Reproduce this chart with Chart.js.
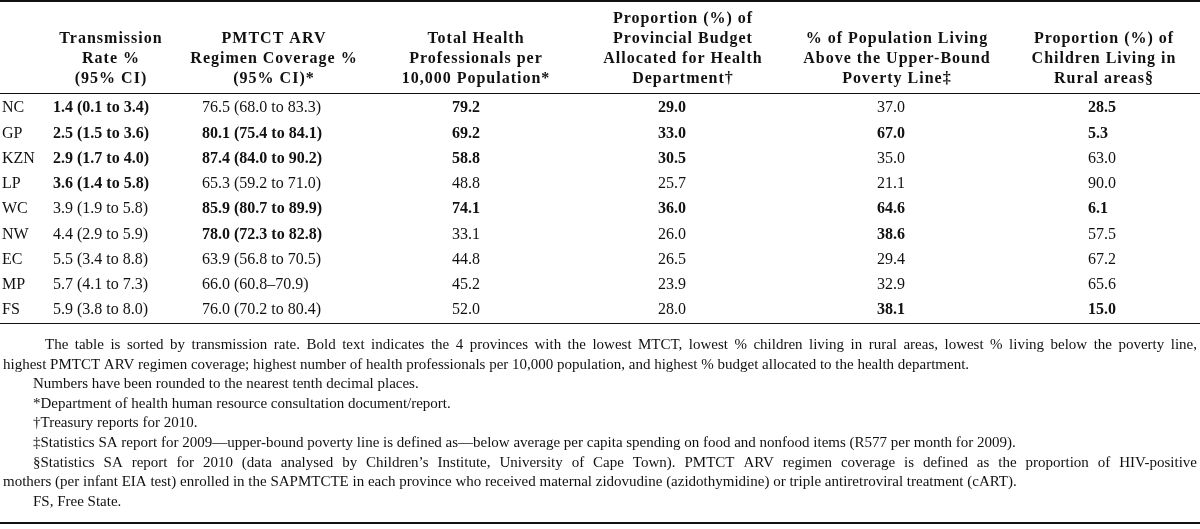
<!DOCTYPE html>
<html>
<head>
<meta charset="utf-8">
<script src="https://cdn.jsdelivr.net/npm/chart.js@4.4.1/dist/chart.umd.min.js"></script>
<style>
  html, body { margin: 0; padding: 0; background: #fff; }
  canvas { display: block; }
</style>
</head>
<body>
<canvas id="tbl" width="1200" height="529"></canvas>
<script>
// --- data ---
const provinces = ['NC', 'GP', 'KZN', 'LP', 'WC', 'NW', 'EC', 'MP', 'FS'];

const rate     = [1.4, 2.5, 2.9, 3.6, 3.9, 4.4, 5.5, 5.7, 5.9];
const rateLow  = [0.1, 1.5, 1.7, 1.4, 1.9, 2.9, 3.4, 4.1, 3.8];
const rateHigh = [3.4, 3.6, 4.0, 5.8, 5.8, 5.9, 8.8, 7.3, 8.0];

const coverage     = [76.5, 80.1, 87.4, 65.3, 85.9, 78.0, 63.9, 66.0, 76.0];
const coverageLow  = [68.0, 75.4, 84.0, 59.2, 80.7, 72.3, 56.8, 60.8, 70.2];
const coverageHigh = [83.3, 84.1, 90.2, 71.0, 89.9, 82.8, 70.5, 70.9, 80.4];
const coverageSep  = [' to ', ' to ', ' to ', ' to ', ' to ', ' to ', ' to ', '–', ' to '];

const healthProfs   = [79.2, 69.2, 58.8, 48.8, 74.1, 33.1, 44.8, 45.2, 52.0];
const budgetShare   = [29.0, 33.0, 30.5, 25.7, 36.0, 26.0, 26.5, 23.9, 28.0];
const abovePoverty  = [37.0, 67.0, 35.0, 21.1, 64.6, 38.6, 29.4, 32.9, 38.1];
const ruralChildren = [28.5, 5.3, 63.0, 90.0, 6.1, 57.5, 67.2, 65.6, 15.0];

// which provinces are bold in each column
const boldRate     = ['NC', 'GP', 'KZN', 'LP'];
const boldCoverage = ['GP', 'KZN', 'WC', 'NW'];
const boldProfs    = ['NC', 'GP', 'KZN', 'WC'];
const boldBudget   = ['NC', 'GP', 'KZN', 'WC'];
const boldPoverty  = ['GP', 'WC', 'NW', 'FS'];
const boldRural    = ['NC', 'GP', 'WC', 'FS'];

const headers = [
  ['Transmission', 'Rate %', '(95% CI)'],
  ['PMTCT ARV', 'Regimen Coverage %', '(95% CI)*'],
  ['Total Health', 'Professionals per', '10,000 Population*'],
  ['Proportion (%) of', 'Provincial Budget', 'Allocated for Health', 'Department†'],
  ['% of Population Living', 'Above the Upper-Bound', 'Poverty Line‡'],
  ['Proportion (%) of', 'Children Living in', 'Rural areas§']
];

const footnotes = [
  'The table is sorted by transmission rate. Bold text indicates the 4 provinces with the lowest MTCT, lowest % children living in rural areas, lowest % living below the poverty line,',
  'highest PMTCT ARV regimen coverage; highest number of health professionals per 10,000 population, and highest % budget allocated to the health department.',
  'Numbers have been rounded to the nearest tenth decimal places.',
  '*Department of health human resource consultation document/report.',
  '†Treasury reports for 2010.',
  '‡Statistics SA report for 2009—upper-bound poverty line is defined as—below average per capita spending on food and nonfood items (R577 per month for 2009).',
  '§Statistics SA report for 2010 (data analysed by Children’s Institute, University of Cape Town). PMTCT ARV regimen coverage is defined as the proportion of HIV-positive',
  'mothers (per infant EIA test) enrolled in the SAPMTCTE in each province who received maternal zidovudine (azidothymidine) or triple antiretroviral treatment (cART).',
  'FS, Free State.'
];

// --- layout ---
const FONT = '"Liberation Serif", "Times New Roman", serif';
const W = 1200, H = 529;
const HEADER_RULE = 93;
const ROW_TOP = 95.5, ROW_PITCH = 25.25;
const ROW_BOTTOM = ROW_TOP + ROW_PITCH * provinces.length;
const headerCenters = [111, 274, 476, 683, 897, 1104];
const cellLeft = [2, 53, 202, 452, 658, 877, 1088];
const headerLastLine = 79, headerPitch = 20;
const footGap = 22, footPitch = 19.6;
const footIndent = [45, 3, 33, 33, 33, 33, 33, 3, 33];
const footJustify = [true, false, false, false, false, false, true, false, false];

const f1 = v => v.toFixed(1);
const columns = [
  { text: i => provinces[i], bold: () => false },
  { text: i => `${f1(rate[i])} (${f1(rateLow[i])} to ${f1(rateHigh[i])})`, bold: i => boldRate.includes(provinces[i]) },
  { text: i => `${f1(coverage[i])} (${f1(coverageLow[i])}${coverageSep[i]}${f1(coverageHigh[i])})`, bold: i => boldCoverage.includes(provinces[i]) },
  { text: i => f1(healthProfs[i]), bold: i => boldProfs.includes(provinces[i]) },
  { text: i => f1(budgetShare[i]), bold: i => boldBudget.includes(provinces[i]) },
  { text: i => f1(abovePoverty[i]), bold: i => boldPoverty.includes(provinces[i]) },
  { text: i => f1(ruralChildren[i]), bold: i => boldRural.includes(provinces[i]) }
];

const cells = [];
provinces.forEach((p, i) => {
  columns.forEach((c, j) => {
    cells.push({ x: cellLeft[j], y: p, text: c.text(i), bold: c.bold(i) });
  });
});

function hline(ctx, y, w) {
  ctx.fillStyle = '#111';
  ctx.fillRect(0, y, W, w);
}

function drawJustified(ctx, str, x0, x1, y) {
  const words = str.split(' ');
  const total = words.reduce((s, w) => s + ctx.measureText(w).width, 0);
  const gap = (x1 - x0 - total) / (words.length - 1);
  let x = x0;
  words.forEach(w => {
    ctx.fillText(w, x, y);
    x += ctx.measureText(w).width + gap;
  });
}

const tablePlugin = {
  id: 'tableText',
  afterDatasetsDraw(chart) {
    const { ctx } = chart;
    const yScale = chart.scales.y;
    const meta = chart.getDatasetMeta(0);
    const bodyBottom = Math.round(yScale.bottom);
    ctx.save();
    ctx.fillStyle = '#111';
    ctx.textBaseline = 'middle';

    // rules
    hline(ctx, 0, 2);
    hline(ctx, HEADER_RULE, 1);
    hline(ctx, bodyBottom, 1);
    hline(ctx, H - 7, 2);

    // header
    ctx.textAlign = 'center';
    ctx.font = 'bold 16px ' + FONT;
    ctx.letterSpacing = '1px';
    headers.forEach((lines, j) => {
      lines.forEach((ln, k) => {
        const yy = headerLastLine - (lines.length - 1 - k) * headerPitch;
        ctx.fillText(ln, headerCenters[j], yy);
      });
    });
    ctx.letterSpacing = '0px';

    // body cells, placed by the chart's scales
    ctx.textAlign = 'left';
    meta.data.forEach((pt, k) => {
      const c = cells[k];
      ctx.font = (c.bold ? 'bold ' : '') + '16px ' + FONT;
      ctx.fillText(c.text, pt.x, pt.y);
    });

    // footnotes
    ctx.font = '15px ' + FONT;
    footnotes.forEach((ln, k) => {
      const yy = bodyBottom + footGap + k * footPitch;
      if (footJustify[k]) drawJustified(ctx, ln, footIndent[k], 1197, yy);
      else ctx.fillText(ln, footIndent[k], yy);
    });
    ctx.restore();
  }
};

new Chart(document.getElementById('tbl'), {
  type: 'scatter',
  data: {
    datasets: [{
      data: cells.map(c => ({ x: c.x, y: c.y })),
      pointRadius: 0,
      pointHoverRadius: 0
    }]
  },
  options: {
    responsive: false,
    animation: false,
    events: [],
    devicePixelRatio: 1,
    layout: { padding: { left: 0, right: 0, top: ROW_TOP, bottom: H - ROW_BOTTOM } },
    plugins: { legend: { display: false }, tooltip: { enabled: false } },
    scales: {
      x: { type: 'linear', min: 0, max: W, display: false },
      y: { type: 'category', labels: provinces, offset: true, display: false }
    }
  },
  plugins: [tablePlugin]
});
</script>
</body>
</html>
